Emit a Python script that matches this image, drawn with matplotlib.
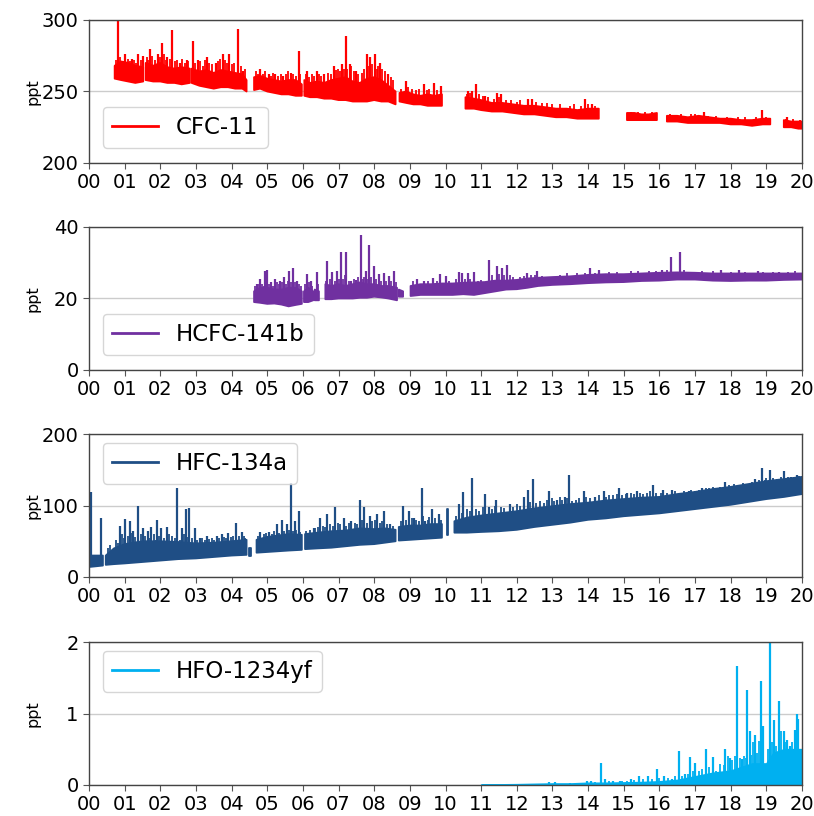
import numpy as np
import matplotlib
matplotlib.use("Agg")
import matplotlib.pyplot as plt

nan = float("nan")

# years since 2000; band envelope (lo/hi) with gaps as nan, plus spikes
cfc11_t = [0.72, 0.9, 1.1, 1.3, 1.52, nan,
           1.59, 1.8, 2.0, 2.2, 2.4, 2.6, 2.83, nan,
           2.88, 3.1, 3.3, 3.5, 3.7, 3.9, 4.1, 4.3, 4.42, nan,
           4.63, 4.8, 5.0, 5.2, 5.4, 5.6, 5.8, 5.97, nan,
           6.04, 6.2, 6.4, 6.6, 6.8, 7.0, 7.2, 7.4, 7.6, 7.8, 8.0, 8.2, 8.4, 8.6, nan,
           8.71, 8.9, 9.1, 9.3, 9.5, 9.7, 9.9, nan,
           10.56, 10.8, 11.0, 11.3, 11.6, 11.9, 12.2, 12.5, 12.8, 13.1, 13.4, 13.7, 14.0, 14.3, nan,
           15.09, 15.3, 15.5, 15.7, 15.93, nan,
           16.21, 16.5, 16.8, 17.1, 17.4, 17.7, 18.0, 18.3, 18.6, 18.9, 19.11, nan,
           19.49, 19.7, 19.9, 20.0]
cfc11_hi = [268, 271, 270, 268, 267, nan,
            270, 268, 270, 267, 266, 267, 266, nan,
            266, 264, 265, 263, 265, 264, 263, 262, 258, nan,
            260, 261, 259, 258, 257, 258, 258, 255, nan,
            258, 256, 257, 256, 258, 259, 260, 257, 256, 259, 260, 258, 254, 250, nan,
            249, 250, 248, 247, 248, 247, 248, nan,
            246, 245, 244, 242, 242, 241, 240, 240, 239, 238, 238, 237, 238, 238, nan,
            235, 235, 234, 234, 235, nan,
            233, 233, 232, 233, 232, 231, 231, 230, 230, 231, 231, nan,
            230, 229, 229, 229]
cfc11_lo = [259, 258, 257, 256, 257, nan,
            258, 257, 257, 256, 256, 255, 256, nan,
            256, 254, 253, 252, 253, 253, 252, 252, 250, nan,
            251, 252, 250, 249, 248, 248, 247, 247, nan,
            247, 246, 246, 245, 245, 244, 244, 243, 243, 243, 244, 243, 243, 241, nan,
            243, 242, 241, 241, 240, 240, 240, nan,
            238, 238, 237, 236, 236, 235, 234, 234, 233, 232, 232, 231, 231, 231, nan,
            230, 230, 230, 230, 230, nan,
            229, 229, 228, 228, 228, 228, 227, 227, 226, 227, 227, nan,
            225, 225, 224, 224]
cfc11_spk_t = [0.81, 1.02, 1.2, 1.38, 1.52, 1.71, 1.94, 2.05, 2.2, 2.34, 2.55, 2.74,
               2.92, 3.05, 3.30, 3.55, 3.77, 3.94, 4.19, 4.33, 4.80, 5.05, 5.22, 5.45,
               5.66, 5.89, 6.11, 6.39, 6.6, 6.86, 7.1, 7.2, 7.31, 7.5, 7.80, 7.89, 8.03,
               8.17, 8.4, 8.88, 9.39, 9.69, 9.86, 10.63, 10.75, 10.86, 11.12, 11.45,
               11.57, 12.31, 12.43, 13.90, 14.11, 17.24, 18.88, 19.58]
cfc11_spk_v = [300, 276, 273, 276.5, 275, 280, 276.5, 284, 274, 293, 270, 272,
               285, 272, 274, 270, 276, 276, 294, 264, 266, 262, 262, 261,
               263, 278, 264, 264, 262, 268, 269.5, 289, 269, 264, 276, 274, 276,
               270, 262, 257, 255, 256, 254, 250, 250, 255, 247, 249,
               248, 245, 245, 245, 241, 236, 237, 232]
cfc11_minor_t = [0.76, 0.86, 0.95, 1.08, 1.15, 1.26, 1.32, 1.45,
                 1.62, 1.66, 1.78, 1.85, 1.99, 2.1, 2.15, 2.27, 2.42, 2.48, 2.62, 2.68, 2.78,
                 2.97, 3.12, 3.2, 3.25, 3.38, 3.45, 3.62, 3.68, 3.82, 3.87, 4.0, 4.08, 4.25, 4.38,
                 4.68, 4.75, 4.88, 4.95, 5.1, 5.15, 5.3, 5.38, 5.52, 5.58, 5.72, 5.8, 5.93,
                 6.08, 6.18, 6.25, 6.32, 6.45, 6.52, 6.7, 6.78, 6.92, 6.98, 7.04, 7.15, 7.25,
                 7.36, 7.42, 7.55, 7.65, 7.72, 7.85, 7.95, 8.08, 8.12, 8.23, 8.3, 8.46, 8.52,
                 8.76, 8.95, 9.05, 9.18, 9.25, 9.48, 9.55, 9.76,
                 10.6, 10.7, 10.95, 11.05, 11.2, 11.35, 11.5, 11.7, 11.85, 12.0, 12.1, 12.55,
                 12.7, 12.85, 13.0, 13.2, 13.5, 13.6, 13.8, 14.0, 14.2,
                 15.2, 15.4, 15.6, 15.8,
                 16.3, 16.6, 16.9, 17.0, 17.35, 17.6, 17.9, 18.2, 18.4, 18.7, 19.0,
                 19.55, 19.75, 19.95]
cfc11_minor_v = [272, 274, 271, 273, 271, 272, 270, 272,
                 274, 272, 275, 272, 274, 276, 272, 273, 271, 272, 273, 270, 271,
                 270, 271, 268, 272, 270, 269, 271, 273, 272, 270, 269, 270, 268, 266,
                 264, 262, 262, 264, 261, 263, 261, 262, 262, 264, 262, 261, 262,
                 262, 260, 262, 261, 262, 261, 263, 262, 265, 266, 264, 266, 266,
                 268, 264, 262, 263, 266, 268, 269, 266, 268, 266, 264, 260, 258,
                 252, 253, 252, 251, 252, 251, 252, 251,
                 248, 249, 248, 247, 246, 245, 246, 244, 244, 243, 244, 243,
                 242, 242, 241, 241, 240, 241, 240, 241, 240,
                 236, 236, 235.5, 236,
                 234, 234, 234, 234, 233, 233, 232.5, 232, 232, 232, 232,
                 231, 231, 230]

hcfc_t = [4.63, 4.8, 5.0, 5.2, 5.4, 5.6, 5.8, 5.97, nan,
          6.03, 6.15, 6.29, nan, 6.33, 6.45, nan,
          6.63, 6.8, 7.0, 7.2, 7.4, 7.6, 7.8, 8.0, 8.2, 8.4, 8.64, nan,
          8.69, 8.81, nan,
          9.02, 9.3, 9.6, 9.9, 10.2, 10.5, 10.8, 11.1, 11.4, 11.7, 12.0, 12.3, 12.6, 13.0,
          13.5, 14.0, 14.5, 15.0, 15.5, 16.0, 16.5, 17.0, 17.5, 18.0, 18.5, 19.0, 19.5, 20.0]
hcfc_hi = [22, 23, 23, 22.5, 22.5, 23, 23, 22, nan,
           22, 23, 22, nan, 22.5, 22, nan,
           24, 23.5, 24, 23.5, 24, 24.5, 24, 24, 23.5, 23.5, 23, nan,
           22.5, 22, nan,
           23.5, 24, 24, 24.2, 24.2, 24.4, 24.5, 24.6, 25, 25, 25.2, 25.6, 25.8, 26,
           26.2, 26.6, 26.8, 26.8, 27, 27.2, 27.3, 27.2, 27, 27, 27, 27, 27, 27]
hcfc_lo = [19, 18.8, 18.5, 18.6, 18.3, 17.8, 18.2, 18.5, nan,
           19, 19, 19.5, nan, 19.5, 19.5, nan,
           19.8, 19.8, 20, 20, 20, 20.2, 20.2, 20.5, 20.3, 20, 19.5, nan,
           20.5, 20.5, nan,
           20.7, 21, 21, 21, 21, 21.2, 21, 21.5, 22, 22.5, 22.6, 23, 23.5, 23.8,
           24, 24.3, 24.5, 24.6, 24.9, 25, 25.3, 25.3, 25, 24.9, 25, 25, 25.2, 25.3]
hcfc_spk_t = [4.70, 4.80, 4.94, 4.99, 5.1, 5.22, 5.36, 5.47, 5.62, 5.72, 5.83, 6.11,
              6.23, 6.39, 6.69, 6.83, 6.95, 7.07, 7.21, 7.35, 7.50, 7.63, 7.76, 7.85,
              7.99, 8.13, 8.27, 8.41, 8.55, 9.2, 9.4, 9.65, 9.85, 10.0, 10.37, 10.47,
              10.63, 10.79, 11.21, 11.45, 11.59, 11.73, 12.29, 12.57, 14.05, 14.3,
              16.07, 16.33, 16.57, 17.73, 18.22, 18.76, 19.35]
hcfc_spk_v = [24, 25.5, 27.7, 28, 24.5, 25.5, 25, 26, 27.7, 28.4, 25, 26.8,
              25, 27.4, 30.5, 27.4, 27.7, 33.1, 32.9, 25, 25.3, 37.7, 27.7, 35,
              29.1, 26.8, 27.2, 26.3, 27.7, 25.5, 25, 25.8, 26.8, 26.3, 27.4, 27.2,
              27.2, 27.4, 30.8, 29.1, 28.4, 29.3, 27.2, 27.7, 28.6, 28,
              28, 31.6, 33, 28, 28, 27.8, 27.5]
hcfc_minor_t = [4.66, 4.75, 4.85, 4.9, 5.05, 5.15, 5.28, 5.32, 5.42, 5.52, 5.57, 5.67,
                5.78, 5.9, 5.95, 6.06, 6.18, 6.26, 6.42,
                6.65, 6.75, 6.9, 7.02, 7.12, 7.17, 7.28, 7.42, 7.55, 7.68, 7.72, 7.8,
                7.92, 8.05, 8.2, 8.32, 8.47, 8.6,
                9.1, 9.5, 9.75, 10.1, 10.3, 10.55, 10.7, 10.9, 11.0, 11.3, 11.5, 11.65,
                11.8, 11.9, 12.1, 12.2, 12.4, 12.5, 12.7, 13.2, 13.4, 13.7, 13.9, 14.2,
                14.6, 14.8, 15.2, 15.4, 15.7, 15.9, 16.2, 16.7, 17.2, 17.5, 18.0, 18.4,
                18.9, 19.2, 19.6, 19.8]
hcfc_minor_v = [23.5, 24, 24, 23.5, 24, 23.5, 24.5, 24, 24.5, 24, 25, 24.5,
                24.5, 24, 23.5, 24, 24.5, 23.5, 24,
                25, 25.5, 25, 25.5, 25.5, 26.5, 25, 25.5, 26, 25.5, 26, 25.5,
                26, 25.5, 25, 25, 25, 24.5,
                24.8, 25, 25, 25, 25.5, 25.5, 25.5, 25, 25.2, 26.5, 26.8, 26.5,
                26.5, 26, 26, 26.3, 26.5, 26.6, 26.4, 26.5, 27, 27, 27, 27.2,
                27.3, 27.4, 27.6, 27.6, 27.8, 27.8, 28, 28, 27.8, 27.6, 27.4, 27.5,
                27.4, 27.4, 27.4, 27.6]

hfc_t = [0.0, 0.2, 0.39, nan,
         0.47, 0.7, 1.0, 1.5, 2.0, 2.5, 3.0, 3.5, 4.0, 4.42, nan,
         4.50, 4.54, nan,
         4.7, 5.0, 5.3, 5.6, 5.97, nan,
         6.06, 6.4, 6.8, 7.2, 7.6, 8.0, 8.3, 8.6, nan,
         8.69, 9.0, 9.3, 9.6, 9.9, nan,
         10.03, 10.07, nan,
         10.25, 10.6, 11.0, 11.5, 12.0, 12.5, 13.0, 13.5, 14.0, 14.5, 15.0, 15.5, 16.0,
         16.5, 17.0, 17.5, 18.0, 18.5, 19.0, 19.5, 20.0]
hfc_hi = [30, 30, 30, nan,
          30, 40, 46, 50, 50, 49, 47, 48, 50, 52, nan,
          40, 40, nan,
          52, 56, 58, 60, 59, nan,
          60, 62, 64, 65, 68, 67, 68, 66, nan,
          70, 72, 72, 74, 74, nan,
          95, 95, nan,
          78, 83, 86, 89, 92, 96, 99, 102, 104, 107, 109, 111, 112,
          116, 119, 123, 126, 130, 134, 137, 140]
hfc_lo = [14, 15, 16, nan,
          17, 18, 19, 21, 23, 25, 26, 28, 30, 31, nan,
          30, 30, nan,
          34, 35, 36, 37, 38, nan,
          39, 40, 41, 43, 45, 46, 48, 50, nan,
          51, 52, 53, 54, 55, nan,
          59, 59, nan,
          62, 62, 63, 64, 66, 70, 73, 76, 80, 82, 85, 87, 89,
          92, 95, 98, 101, 105, 109, 112, 116]
hfc_spk_t = [0.07, 0.35, 0.86, 1.0, 1.14, 1.24, 1.38, 1.52, 1.66, 1.75, 1.91, 2.03,
             2.19, 2.47, 2.6, 2.72, 2.81, 2.97, 3.11, 3.3, 3.58, 3.72, 3.91, 4.12,
             4.28, 4.8, 5.06, 5.27, 5.41, 5.55, 5.67, 5.78, 5.88, 6.3, 6.49, 6.69,
             6.91, 7.14, 7.35, 7.59, 7.72, 7.89, 8.08, 8.27, 8.45, 8.81, 8.97, 9.11,
             9.34, 9.43, 9.62, 9.81, 10.37, 10.49, 10.75, 11.12, 11.21, 11.43, 11.8,
             12.2, 12.31, 12.46, 12.9, 13.13, 13.34, 13.46, 13.88, 14.2, 14.44, 14.86,
             15.1, 15.37, 15.82, 16.1, 16.36, 16.82, 17.2, 17.85, 18.27, 18.69, 18.88,
             19.11, 19.49, 19.7, 19.86]
hfc_spk_v = [119, 82, 72, 81, 79, 65, 100, 68, 65, 70, 80, 68,
             70, 124.5, 68, 95, 96, 69, 55, 57, 57, 60, 62, 75,
             63, 63, 63, 74, 80, 74, 131, 79, 93, 69, 82, 88,
             97.6, 83, 79, 108, 97.6, 86, 88, 93, 74, 99, 93, 82,
             124.5, 79, 95, 88, 102, 119, 138.7, 116.5, 98, 108, 102,
             112, 121, 137.7, 120, 107, 112, 142.5, 120, 112, 120, 124.5,
             118, 120, 128, 122, 121, 120, 124, 133, 128, 137.7, 152.8,
             149.5, 148, 140, 142]
hfc_minor_t = [0.52, 0.6, 0.75, 0.8, 0.92, 0.97, 1.08, 1.2, 1.3, 1.45, 1.58, 1.7, 1.82,
               1.87, 1.97, 2.1, 2.25, 2.33, 2.4, 2.55, 2.66, 2.77, 2.9, 3.04, 3.17, 3.25,
               3.38, 3.45, 3.52, 3.65, 3.78, 3.85, 3.98, 4.05, 4.2, 4.35, 4.38,
               4.75, 4.9, 4.96, 5.12, 5.2, 5.33, 5.48, 5.6, 5.72, 5.82, 5.93,
               6.1, 6.2, 6.35, 6.42, 6.55, 6.62, 6.75, 6.85, 6.98, 7.05, 7.2, 7.28, 7.45,
               7.52, 7.65, 7.8, 7.95, 8.02, 8.15, 8.22, 8.35, 8.52,
               8.75, 8.88, 9.05, 9.18, 9.25, 9.38, 9.5, 9.55, 9.7, 9.88,
               10.3, 10.45, 10.6, 10.68, 10.85, 10.95, 11.05, 11.3, 11.38, 11.55, 11.65,
               11.9, 12.0, 12.1, 12.38, 12.55, 12.65, 12.75, 12.85, 13.0, 13.05, 13.22,
               13.28, 13.4, 13.55, 13.65, 13.75, 13.95, 14.05, 14.3, 14.5, 14.6, 14.7,
               14.8, 14.95, 15.05, 15.2, 15.3, 15.45, 15.55, 15.65, 15.75, 15.9, 16.05,
               16.2, 16.45, 16.6, 16.7, 16.9, 17.0, 17.1, 17.3, 17.4, 17.5, 17.6, 17.7,
               17.95, 18.1, 18.2, 18.35, 18.5, 18.6, 18.78, 18.95, 19.0, 19.2, 19.3,
               19.4, 19.55, 19.6, 19.78, 19.92]
hfc_minor_v = [40, 45, 52, 48, 60, 55, 58, 62, 56, 60, 58, 55, 60,
               52, 58, 55, 60, 58, 55, 52, 60, 56, 55, 52, 54, 52,
               53, 55, 52, 54, 56, 54, 56, 58, 58, 58, 55,
               58, 60, 62, 60, 64, 62, 64, 66, 65, 66, 63,
               64, 66, 68, 70, 72, 70, 74, 72, 76, 74, 72, 76, 76,
               74, 80, 76, 78, 80, 76, 78, 74, 72,
               78, 80, 82, 80, 78, 85, 80, 84, 82, 80,
               85, 90, 95, 92, 95, 92, 98, 95, 100, 98, 96,
               98, 102, 100, 105, 104, 106, 103, 108, 110, 106, 112,
               108, 110, 106, 108, 110, 112, 110, 114, 112, 115, 114,
               116, 114, 116, 118, 116, 118, 116, 118, 120, 118, 118,
               118, 120, 118, 120, 122, 120, 122, 125, 124, 126, 124, 126,
               128, 130, 128, 132, 130, 133, 135, 136, 138, 138, 137,
               140, 138, 140, 140, 141]

hfo_t = [11.0, 12.0, 13.0, 13.5, 14.0, 14.5, 15.0, 15.5, 16.0, 16.5, 17.0, 17.5,
         18.0, 18.3, 18.6, 19.0, 19.2, 19.5, 19.8, 20.0]
hfo_hi = [0.005, 0.01, 0.02, 0.02, 0.03, 0.03, 0.035, 0.04, 0.05, 0.07, 0.12, 0.17,
          0.2, 0.25, 0.3, 0.3, 0.45, 0.5, 0.5, 0.5]
hfo_spk_t = [12.48, 12.9, 13.08, 13.5, 13.97, 14.07, 14.37, 14.48, 14.7, 14.89, 15.19,
             15.42, 15.67, 15.92, 16.12, 16.36, 16.54, 16.73, 16.87, 17.01, 17.32,
             17.5, 17.85, 17.99, 18.19, 18.31, 18.47, 18.53, 18.69, 18.85, 18.91,
             19.1, 19.22, 19.35, 19.49, 19.58, 19.67, 19.79, 19.86, 19.9, 19.98]
hfo_spk_v = [0.015, 0.04, 0.04, 0.025, 0.05, 0.06, 0.31, 0.09, 0.05, 0.06, 0.085,
             0.13, 0.13, 0.23, 0.12, 0.09, 0.47, 0.16, 0.39, 0.31, 0.51,
             0.39, 0.5, 0.38, 1.66, 0.37, 1.33, 0.75, 0.7, 1.45, 0.83,
             2.0, 0.91, 1.18, 0.76, 0.63, 0.55, 0.77, 1.0, 0.93, 0.51]
hfo_minor_t = [13.2, 14.2, 14.6, 14.95, 15.1, 15.3, 15.55, 15.8, 16.0, 16.25, 16.45,
               16.62, 16.8, 16.95, 17.1, 17.2, 17.4, 17.6, 17.7, 17.8, 17.92, 18.05,
               18.12, 18.25, 18.38, 18.42, 18.58, 18.62, 18.75, 18.8, 18.95, 19.05,
               19.15, 19.28, 19.42, 19.53, 19.62, 19.72, 19.82, 19.94]
hfo_minor_v = [0.02, 0.04, 0.05, 0.05, 0.06, 0.07, 0.08, 0.08, 0.1, 0.1, 0.12,
               0.13, 0.15, 0.2, 0.2, 0.22, 0.25, 0.2, 0.3, 0.28, 0.4, 0.35,
               0.4, 0.38, 0.4, 0.38, 0.42, 0.6, 0.45, 0.62, 0.2, 0.5,
               0.6, 0.55, 0.75, 0.6, 0.5, 0.6, 0.5, 0.5]

years = list(range(0, 21))
year_labels = ["%02d" % y for y in years]


def draw(ax, t, lo, hi, spikes, color, label):
    t = np.array(t, float)
    hi = np.array(hi, float)
    lo = np.zeros_like(hi) if lo is None else np.array(lo, float)
    ax.fill_between(t, lo, hi, facecolor=color, edgecolor=color, lw=1.3)
    ok = ~np.isnan(t)
    for (st, sv), w in zip(spikes, [1.6, 1.3]):
        base = np.interp(st, t[ok], lo[ok])
        ax.vlines(st, base, sv, color=color, lw=w)
    ax.plot([], [], color=color, lw=2, label=label)


fig = plt.figure(figsize=(8.14, 8.16), dpi=100)
left, width, height = 89 / 814, 713 / 814, 143 / 816
bottoms = [1 - 163 / 816, 1 - 370 / 816, 1 - 577 / 816, 1 - 785 / 816]
axes = [fig.add_axes([left, b, width, height]) for b in bottoms]

draw(axes[0], cfc11_t, cfc11_lo, cfc11_hi,
     [(cfc11_spk_t, cfc11_spk_v), (cfc11_minor_t, cfc11_minor_v)], "#ff0000", "CFC-11")
draw(axes[1], hcfc_t, hcfc_lo, hcfc_hi,
     [(hcfc_spk_t, hcfc_spk_v), (hcfc_minor_t, hcfc_minor_v)], "#7030a0", "HCFC-141b")
draw(axes[2], hfc_t, hfc_lo, hfc_hi,
     [(hfc_spk_t, hfc_spk_v), (hfc_minor_t, hfc_minor_v)], "#1f4e85", "HFC-134a")
draw(axes[3], hfo_t, None, hfo_hi,
     [(hfo_spk_t, hfo_spk_v), (hfo_minor_t, hfo_minor_v)], "#00b0f0", "HFO-1234yf")

ylims = [(200, 300), (0, 40), (0, 200), (0, 2)]
yticks = [[200, 250, 300], [0, 20, 40], [0, 100, 200], [0, 1, 2]]
locs = ["lower left", "lower left", "upper left", "upper left"]

for ax, yl, yt, loc in zip(axes, ylims, yticks, locs):
    ax.set_xlim(0, 20)
    ax.set_ylim(*yl)
    ax.set_yticks(yt)
    ax.set_xticks(years)
    ax.set_xticklabels(year_labels)
    ax.tick_params(labelsize=14, length=4, color="#555555")
    ax.yaxis.grid(True, color="#cccccc", lw=1)
    ax.set_axisbelow(True)
    for s in ax.spines.values():
        s.set_color("#444444")
        s.set_linewidth(1)
    ax.set_ylabel("ppt", fontsize=11.5)
    ax.yaxis.set_label_coords(-0.068, 0.5)
    if loc == "lower left":
        anchor = (13.7 / 713, 15 / 143)
    else:
        anchor = (13.7 / 713, 1 - 8.5 / 143)
    ax.legend(loc=loc, bbox_to_anchor=anchor, borderaxespad=0, fontsize=16.5,
              handlelength=2.0)

fig.savefig("out.png", dpi=100)
